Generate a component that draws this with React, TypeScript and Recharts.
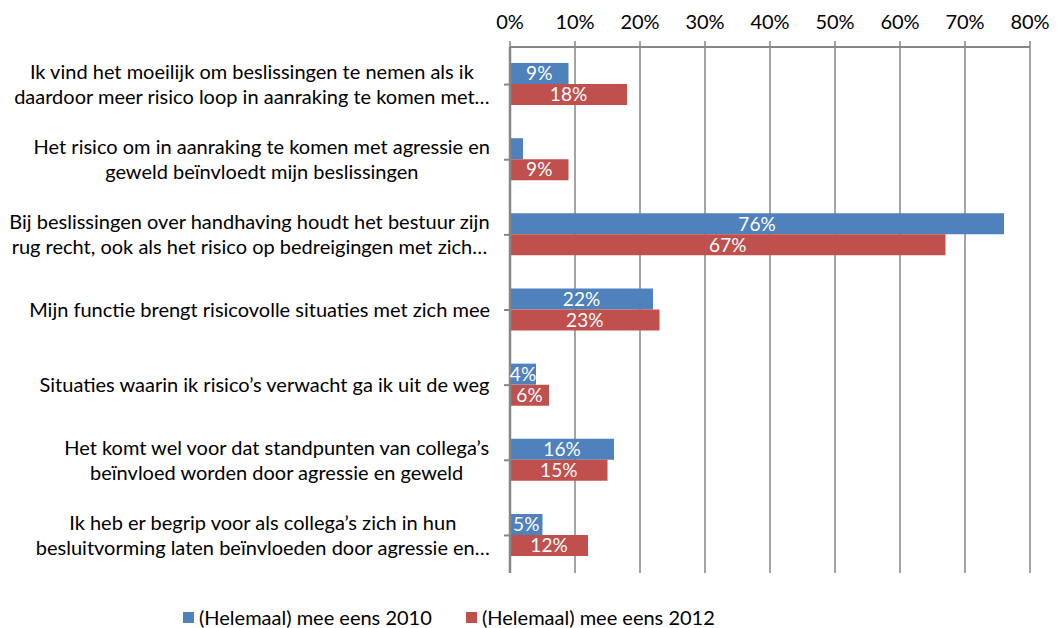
import React from "react";
import { BarChart, Bar, XAxis, YAxis, CartesianGrid, Legend, LabelList } from "recharts";

const FONT = "Lato, 'Open Sans', sans-serif";
const FONT_SIZE = 20;

// category labels, as wrapped in the original
const categoryLines: string[][] = [
  ["Ik vind het moeilijk om beslissingen te nemen als ik", "daardoor meer risico loop in aanraking te komen met…"],
  ["Het risico om in aanraking te komen met agressie en", "geweld beïnvloedt mijn beslissingen"],
  ["Bij beslissingen over handhaving houdt het bestuur zijn", "rug recht, ook als het risico op bedreigingen met zich…"],
  ["Mijn functie brengt risicovolle situaties met zich mee"],
  ["Situaties waarin ik risico’s verwacht ga ik uit de weg"],
  ["Het komt wel voor dat standpunten van collega’s", "beïnvloed worden door agressie en geweld"],
  ["Ik heb er begrip voor als collega’s zich in hun", "besluitvorming laten beïnvloeden door agressie en…"],
];
const categories = categoryLines.map((l) => l.join(" "));

const values2010 = [9, 2, 76, 22, 4, 16, 5];
const values2012 = [18, 9, 67, 23, 6, 15, 12];

const xTicks = [0, 10, 20, 30, 40, 50, 60, 70, 80];

const series = [
  { key: "v2010", name: "(Helemaal) mee eens 2010", color: "#4F81BD" },
  { key: "v2012", name: "(Helemaal) mee eens 2012", color: "#C0504D" },
];

const data = categories.map((c, i) => ({ category: c, v2010: values2010[i], v2012: values2012[i] }));

let ctx: CanvasRenderingContext2D | null = null;
const measure = (s: string) => {
  if (!ctx) ctx = document.createElement("canvas").getContext("2d");
  if (!ctx) return s.length * 9;
  ctx.font = `${FONT_SIZE}px ${FONT}`;
  return ctx.measureText(s).width;
};

const CategoryTick = (props: any) => {
  const { y, payload } = props;
  const idx = categories.indexOf(payload.value);
  const lines = idx >= 0 ? categoryLines[idx] : [String(payload.value)];
  const maxW = Math.max(...lines.map(measure));
  const cx = 490 - maxW / 2;
  const lh = 25;
  const y0 = y - ((lines.length - 1) * lh) / 2;
  return (
    <g>
      {lines.map((l, i) => (
        <text key={i} x={cx} y={y0 + i * lh} dy="0.35em" textAnchor="middle" fill="#000" fontSize={FONT_SIZE} fontFamily={FONT}>
          {l}
        </text>
      ))}
    </g>
  );
};

const BarLabel = (props: any) => {
  const { x, y, width, height, value } = props;
  if (value < 3) return null;
  return (
    <text x={x + width / 2} y={y + height / 2} dy="0.35em" textAnchor="middle" fill="#fff" fontSize={FONT_SIZE - 1} fontFamily={FONT}>
      {value}%
    </text>
  );
};

const LegendContent = () => (
  <div style={{ position: "relative", height: 20, fontFamily: FONT, fontSize: FONT_SIZE, color: "#000", lineHeight: "20px" }}>
    {series.map((s, i) => (
      <div key={s.key} style={{ position: "absolute", left: i === 0 ? 183 : 466, top: 0, display: "flex", alignItems: "center", whiteSpace: "nowrap" }}>
        <span style={{ display: "inline-block", width: 11, height: 11, background: s.color, marginRight: 5 }} />
        <span>{s.name}</span>
      </div>
    ))}
  </div>
);

export default function App() {
  return (
    <div style={{ position: "absolute", left: 0, top: 0, width: 1064, height: 628, background: "#fff" }}>
      <BarChart
        width={1064}
        height={628}
        data={data}
        layout="vertical"
        margin={{ top: 0, right: 34, bottom: 35, left: 0 }}
        barCategoryGap="21.4%"
        barGap={0}
        style={{ fontFamily: FONT }}
      >
        <CartesianGrid horizontal={false} stroke="#868686" strokeWidth={1.5} />
        <XAxis
          type="number"
          orientation="top"
          domain={[0, 80]}
          ticks={xTicks}
          tickFormatter={(v) => `${v}%`}
          height={47}
          tickSize={6}
          tickMargin={12}
          axisLine={{ stroke: "#868686", strokeWidth: 2 }}
          tickLine={{ stroke: "#868686", strokeWidth: 1.5 }}
          tick={{ fill: "#000", fontSize: FONT_SIZE, fontFamily: FONT }}
        />
        <YAxis
          type="category"
          dataKey="category"
          width={510}
          tickSize={6}
          axisLine={{ stroke: "#868686", strokeWidth: 2.5 }}
          tickLine={{ stroke: "#868686", strokeWidth: 2 }}
          tick={<CategoryTick />}
          interval={0}
        />
        <Legend
          verticalAlign="bottom"
          content={<LegendContent />}
          wrapperStyle={{ position: "absolute", left: 0, top: 607, width: 1064, height: 20 }}
        />
        {series.map((s) => (
          <Bar key={s.key} dataKey={s.key} name={s.name} fill={s.color} isAnimationActive={false}>
            <LabelList dataKey={s.key} content={<BarLabel />} />
          </Bar>
        ))}
      </BarChart>
    </div>
  );
}
